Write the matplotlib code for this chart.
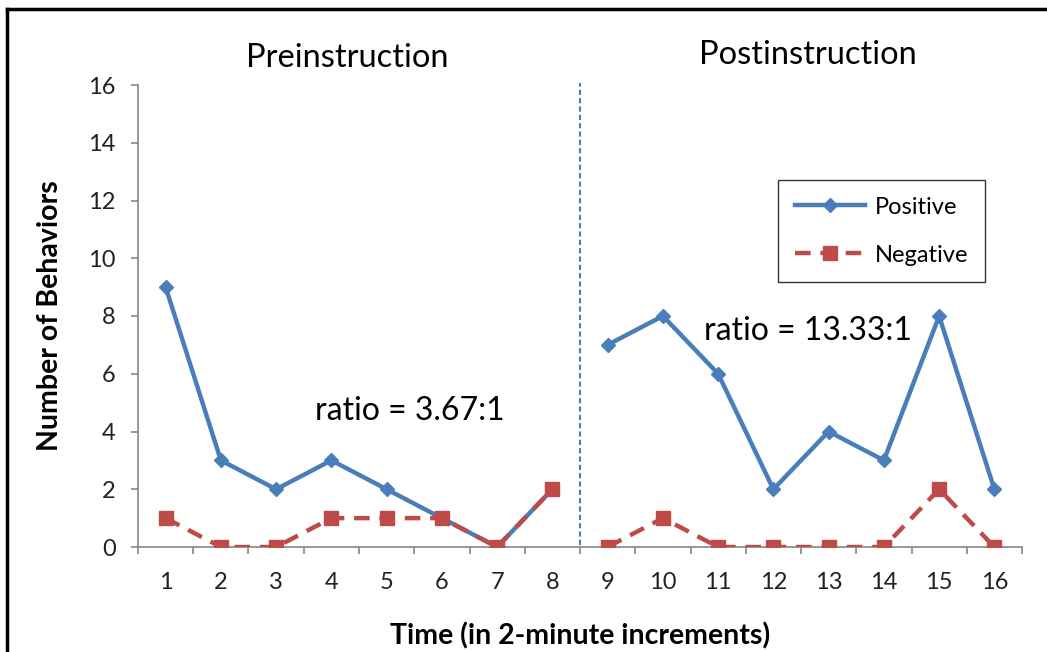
import matplotlib
matplotlib.use("Agg")
import matplotlib.pyplot as plt
from matplotlib.lines import Line2D
import numpy as np

plt.rcParams['font.family'] = ['Lato', 'DejaVu Sans']

time = list(range(1, 17))
positive_pre = [9, 3, 2, 3, 2, 1, 0, 2]
positive_post = [7, 8, 6, 2, 4, 3, 8, 2]
negative_pre = [1, 0, 0, 1, 1, 1, 0, 2]
negative_post = [0, 1, 0, 0, 0, 0, 2, 0]
phase_labels = ["Preinstruction", "Postinstruction"]
ratio_labels = ["ratio = 3.67:1", "ratio = 13.33:1"]
series_names = ["Positive", "Negative"]

blue = "#4A7EBB"
red = "#BE4B48"

fig = plt.figure(figsize=(10.47, 6.52), dpi=100)
ax = fig.add_axes([138/1047, 1-547/652, (1022-138)/1047, (547-85)/652])

pre_t = time[:8]
post_t = time[8:]

lp, = ax.plot(pre_t, positive_pre, color=blue, lw=3.2, marker='D', ms=7.5, zorder=3, label=series_names[0])
ax.plot(post_t, positive_post, color=blue, lw=3.2, marker='D', ms=7.5, zorder=3)
ln, = ax.plot(pre_t, negative_pre, color=red, lw=3.2, ls=(0, (3.5, 2.2)), marker='s', ms=10, zorder=4, label=series_names[1])
ax.plot(post_t, negative_post, color=red, lw=3.2, ls=(0, (3.5, 2.2)), marker='s', ms=10, zorder=4)

ax.axvline(8.5, ymin=0.005, ymax=1.005, color=blue, lw=1.5, ls=(0, (2.5, 1.5)), zorder=2, clip_on=False)

ax.set_xlim(0.5, 16.5)
ax.set_ylim(0, 16)
ax.set_yticks(range(0, 17, 2))
ax.set_xticks(time)
ax.set_xticks(np.arange(0.5, 17, 1), minor=True)

for s in ['top', 'right']:
    ax.spines[s].set_visible(False)
for s in ['left', 'bottom']:
    ax.spines[s].set_color('#868686')
    ax.spines[s].set_linewidth(1.2)

ax.tick_params(axis='x', which='major', length=0, pad=18, labelsize=17, labelcolor='#222222')
ax.tick_params(axis='x', which='minor', length=5, width=1.2, color='#868686', direction='out')
ax.tick_params(axis='y', which='major', length=5, width=1.2, color='#868686', pad=11, labelsize=17, labelcolor='#222222')

ax.set_ylabel("Number of Behaviors", fontsize=20.5, fontweight='bold', labelpad=18)
ax.set_xlabel("Time (in 2-minute increments)", fontsize=20.5, fontweight='bold', labelpad=21)

ax.text(4.28, 16.93, phase_labels[0], ha='center', va='center', fontsize=23.5)
ax.text(12.63, 17.04, phase_labels[1], ha='center', va='center', fontsize=23.5)
ax.text(5.42, 4.71, ratio_labels[0], ha='center', va='center', fontsize=23)
ax.text(12.63, 7.48, ratio_labels[1], ha='center', va='center', fontsize=23)

leg = ax.legend(handles=[lp, ln], loc='upper left', bbox_to_anchor=((778-138)/(1022-138), (547-180)/(547-85)),
                frameon=True, fancybox=False, edgecolor='black', fontsize=17,
                handlelength=3.0, labelspacing=1.15, borderpad=0.7, handletextpad=0.4, borderaxespad=0)
leg.get_frame().set_linewidth(1.0)

fig.add_artist(Line2D([7/1047, 1.0], [1-9/652, 1-9/652], color='black', lw=2.5, transform=fig.transFigure))
fig.add_artist(Line2D([7/1047, 7/1047], [1-9/652, 0], color='black', lw=2.5, transform=fig.transFigure))

fig.savefig("out.png", dpi=100)
